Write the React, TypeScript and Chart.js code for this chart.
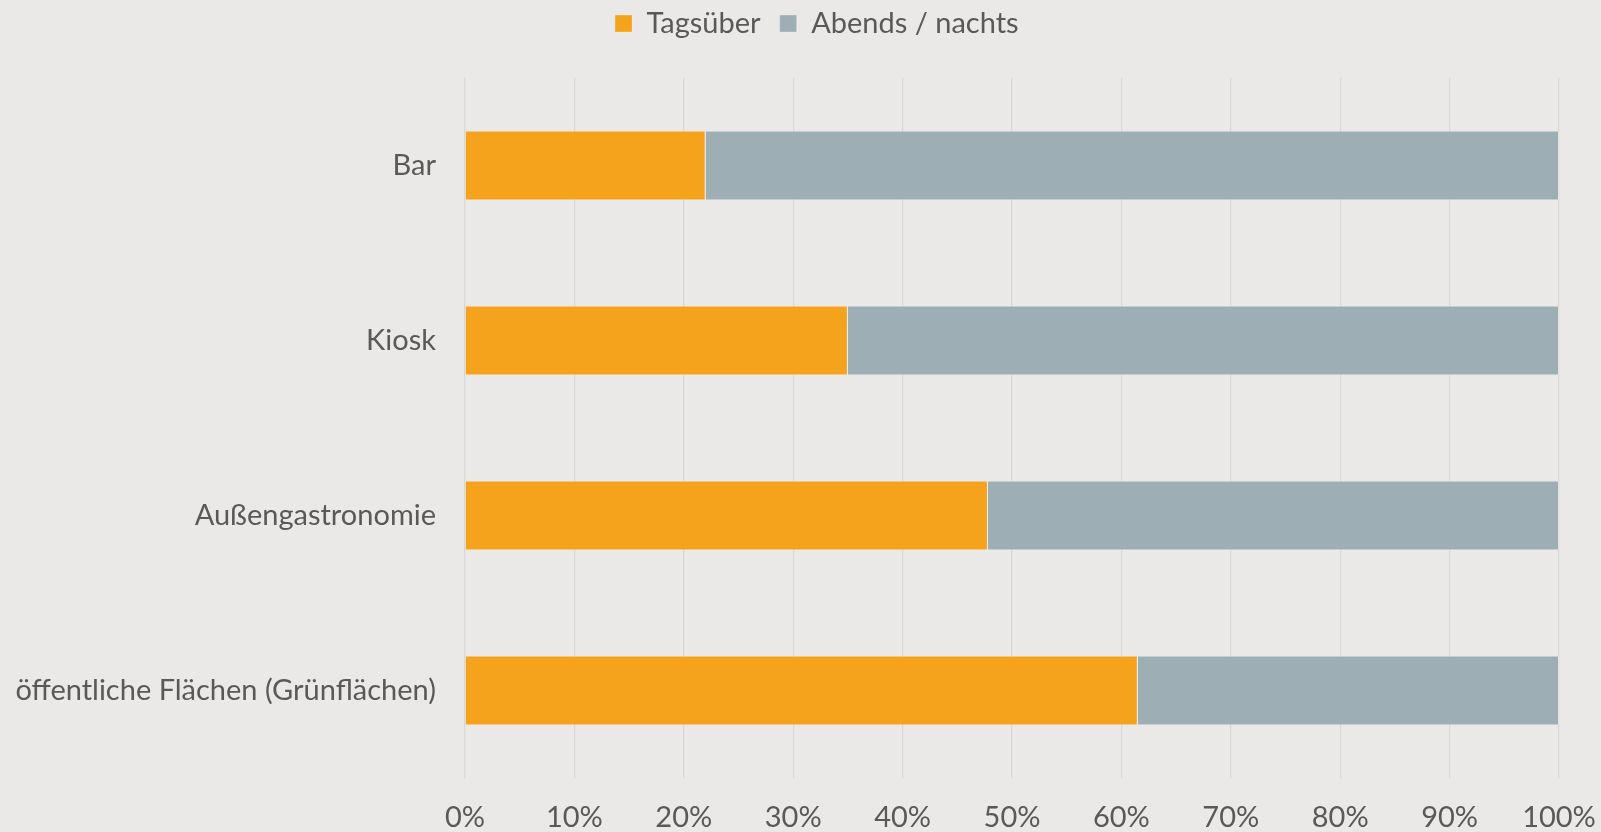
import React, { useEffect, useRef } from "react";
import { Chart, registerables } from "chart.js";

Chart.register(...registerables);

const categories = ["Bar", "Kiosk", "Außengastronomie", "öffentliche Flächen (Grünflächen)"];
const seriesNames = ["Tagsüber", "Abends / nachts"];
const tagsueber = [22, 35, 47.8, 61.5];
const abendsNachts = [78, 65, 52.2, 38.5];
const xTickLabels = ["0%", "10%", "20%", "30%", "40%", "50%", "60%", "70%", "80%", "90%", "100%"];

const OFFSET = 10;
const LEGEND_PAD = 19;
const LEGEND_START = 615;
const FONT = { family: "Lato", size: 29 };
const TEXT = "#595959";

export default function App() {
  const ref = useRef<HTMLCanvasElement>(null);
  useEffect(() => {
    if (!ref.current) return;
    const legendTweak = {
      id: "legendTweak",
      beforeInit(chart: any) {
        const l = chart.legend;
        const orig = l.fit;
        l.fit = function () {
          orig.call(this);
          this.height += 30;
        };
      },
      afterLayout(chart: any) {
        const lg = chart.legend;
        if (!lg || !lg.lineWidths) return;
        const w = lg.lineWidths[0] - LEGEND_PAD;
        const center = LEGEND_START + w / 2;
        lg.left = 2 * center - lg.right;
      },
    };
    const chart = new Chart(ref.current, {
      type: "bar",
      data: {
        labels: categories,
        datasets: [
          {
            label: seriesNames[0],
            data: tagsueber,
            backgroundColor: "#F5A31D",
            borderColor: "rgba(255,255,255,0.25)",
            borderWidth: 1,
            categoryPercentage: 1,
            barPercentage: 0.4,
          },
          {
            label: seriesNames[1],
            data: abendsNachts,
            backgroundColor: "#9DAFB5",
            borderColor: "rgba(255,255,255,0.25)",
            borderWidth: 1,
            categoryPercentage: 1,
            barPercentage: 0.4,
          },
        ],
      },
      options: {
        indexAxis: "y",
        animation: false,
        responsive: true,
        maintainAspectRatio: false,
        layout: { padding: { left: 0, right: 0, top: 0, bottom: 0 } },
        plugins: {
          legend: {
            position: "top",
            labels: {
              boxWidth: 17,
              boxHeight: 17,
              padding: LEGEND_PAD,
              font: FONT,
              color: TEXT,
            },
          },
          tooltip: { enabled: false },
        },
        scales: {
          x: {
            stacked: true,
            min: 0,
            max: 100,
            ticks: {
              stepSize: 10,
              autoSkip: false,
              maxRotation: 0,
              padding: 22,
              font: FONT,
              color: TEXT,
              callback: (_v: any, i: number) => xTickLabels[i],
            },
            grid: { color: "#D8D8D6", lineWidth: 1.2, drawTicks: false },
            border: { display: false },
            afterFit(s: any) {
              s.height = 54;
              s.paddingRight = 42;
              s.paddingLeft = 0;
            },
          },
          y: {
            stacked: true,
            ticks: { padding: 29, font: FONT, color: TEXT },
            grid: { display: false, drawTicks: false },
            border: { display: false },
            afterFit(s: any) {
              s.width = 465;
            },
          },
        },
      },
      plugins: [legendTweak],
    } as any);
    return () => chart.destroy();
  }, []);

  return (
    <div
      style={{
        position: "fixed",
        left: 0,
        top: -OFFSET,
        width: 1601,
        height: 832 + OFFSET,
        background: "#EBE9E7",
      }}
    >
      <canvas ref={ref} />
    </div>
  );
}
